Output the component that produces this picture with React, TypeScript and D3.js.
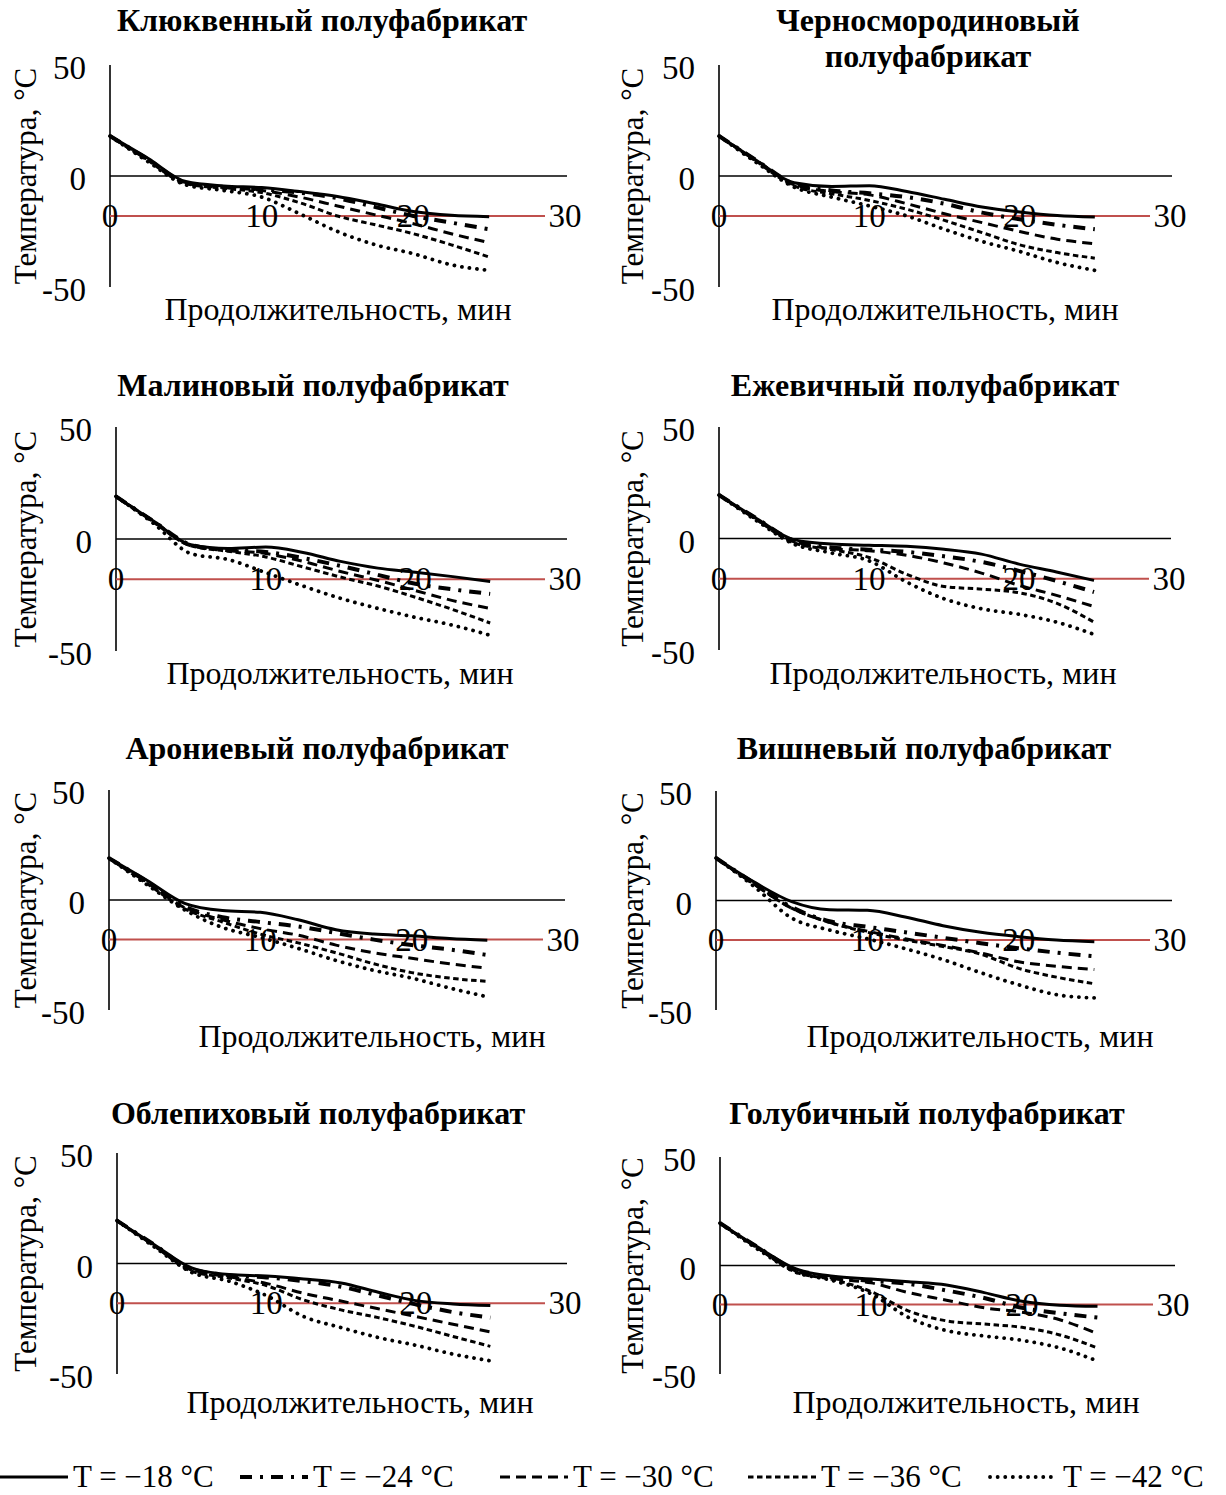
import * as d3 from "d3";

// время, мин
const times = [0, 2.5, 5, 7.5, 10, 12.5, 15, 17.5, 20, 22.5, 25];

const seriesNames = ["T = −18 °C", "T = −24 °C", "T = −30 °C", "T = −36 °C", "T = −42 °C"];

const xTicks = [0, 10, 20, 30];
const yTicks = [50, 0, -50];

// температура, °C — по порядку: −18, −24, −30, −36, −42
const klyukva = [
  [18, 8, -2.5, -4.5, -5.2, -7, -9.2, -12.5, -16, -17.7, -18.3],
  [18, 7.5, -3, -5, -6, -7.5, -10, -14, -18, -21, -24],
  [18, 7.5, -3, -5, -6.5, -9.5, -13.5, -17.5, -21.5, -26, -30],
  [18, 7, -3.5, -5.5, -7.5, -12, -18, -22, -26, -31, -36.5],
  [18, 6.5, -4, -6.5, -9.5, -17, -25, -31, -35, -40, -42.5],
];
const chernosmorodina = [
  [18, 7, -3, -4.7, -4.4, -7, -10.5, -14, -16.2, -17.8, -18.5],
  [18, 7, -3.5, -6.5, -7.8, -9.5, -12.5, -16.5, -19.5, -22, -24],
  [18, 7, -4, -7, -8.5, -12.5, -17, -21, -25, -28.5, -30.5],
  [18, 6.5, -4.5, -8, -11, -15, -20, -25.5, -31, -34.5, -37],
  [18, 6, -5, -9.5, -13.5, -18, -24, -29.5, -34, -39, -42.5],
];
const malina = [
  [19, 8, -2.5, -4.2, -3.6, -6, -10, -13, -14.8, -16.8, -19],
  [19, 8, -2.5, -5, -5.8, -8.5, -12, -16, -20, -22.5, -24.5],
  [19, 8, -3, -5, -6.5, -10, -14.5, -18.5, -23, -27.5, -31],
  [19, 7.5, -3, -5.5, -8, -12.5, -17, -21, -26, -31.5, -37.5],
  [19, 7, -6.5, -9.2, -15, -21, -26.5, -31, -35, -38.5, -43],
];
const ezhevika = [
  [19.5, 9, -0.5, -2.5, -3, -3.5, -4.8, -7, -11.5, -15, -18.8],
  [19.5, 9, -1, -4, -5, -6, -8, -10.5, -14.5, -19, -24],
  [19.5, 8.5, -1.5, -4.5, -5.5, -7.5, -11, -15.5, -21, -25.5, -30.5],
  [19.5, 8.5, -2, -5, -8.5, -16, -21.5, -22.7, -24.3, -29, -37.5],
  [19.5, 8, -2.5, -6.5, -10, -19.5, -27, -31.5, -34, -37.5, -43],
];
const aroniya = [
  [19, 9, -1.5, -4.8, -5.6, -9, -13.5, -15.5, -16.3, -17.5, -18.3],
  [19, 8.5, -3, -7.8, -10, -12, -15, -18, -20.5, -22.5, -25],
  [19, 8, -3.5, -9, -13, -16, -20.5, -24, -26.5, -29, -31],
  [19, 7.5, -4, -10, -15.5, -19.5, -24, -29, -33, -35.5, -37],
  [19, 7, -4.5, -12.5, -17, -22, -27.5, -32, -35.5, -40, -44],
];
const vishnya = [
  [19.4, 8.5, -0.5, -4.2, -4.5, -7.5, -11.5, -14.5, -16.5, -18, -18.8],
  [19.4, 8, -3, -9.5, -12, -14.5, -17, -19.5, -21.8, -23.8, -25.5],
  [19.4, 7.5, -3.5, -10, -14, -17.5, -20.5, -24, -28, -30, -31.5],
  [19.4, 7.5, -3.5, -10, -14.5, -18, -21, -24.5, -31, -35, -38],
  [19.4, 6.5, -8, -13.5, -17.5, -22, -27, -33, -38.5, -43, -44.5],
];
const oblepikha = [
  [19.4, 8.5, -2, -5, -5.7, -7, -8.8, -13, -16.8, -18.3, -19],
  [19.4, 8.5, -2.5, -5.3, -6.3, -8, -10.5, -14.5, -18.5, -22, -24.5],
  [19.4, 8, -3, -6, -9, -13.5, -17, -20.5, -24, -27.5, -31],
  [19.4, 8, -3.5, -6.5, -10, -16.5, -21, -24.5, -28.5, -33, -37.5],
  [19.4, 7.5, -4, -8, -14.5, -24, -29, -33.5, -37, -41, -44],
];
const golubika = [
  [19.5, 8.5, -1.5, -5, -6.2, -7.5, -9, -12.5, -16.5, -18.3, -18.8],
  [19.5, 8.5, -2, -5.5, -7, -8.5, -11.5, -15, -19.5, -22, -24],
  [19.5, 8, -2.5, -6, -8, -12.5, -16, -19.5, -21.5, -25, -31.5],
  [19.5, 8, -3, -6.5, -12, -21, -25.5, -27, -28.5, -32, -38],
  [19.5, 7.5, -3, -7, -13, -24, -30, -32.5, -34.5, -38, -44],
];

const panels = [
  { title: ["Клюквенный полуфабрикат"], data: klyukva, ax: 110, x30: 565, yTop: 65, yBot: 287, tx: 322, ty: 31, xl: 338, xly: 310, yl: 25 },
  { title: ["Черносмородиновый", "полуфабрикат"], data: chernosmorodina, ax: 719, x30: 1170, yTop: 65, yBot: 287, tx: 928, ty: 31, xl: 945, xly: 310, yl: 632 },
  { title: ["Малиновый полуфабрикат"], data: malina, ax: 116, x30: 565, yTop: 427, yBot: 651, tx: 313, ty: 396, xl: 340, xly: 674, yl: 25 },
  { title: ["Ежевичный полуфабрикат"], data: ezhevika, ax: 719, x30: 1169, yTop: 427, yBot: 650, tx: 925, ty: 396, xl: 943, xly: 674, yl: 632 },
  { title: ["Арониевый полуфабрикат"], data: aroniya, ax: 109, x30: 563, yTop: 790, yBot: 1010, tx: 317, ty: 759, xl: 372, xly: 1037, yl: 25 },
  { title: ["Вишневый полуфабрикат"], data: vishnya, ax: 716, x30: 1170, yTop: 791, yBot: 1010, tx: 924, ty: 759, xl: 980, xly: 1037, yl: 632 },
  { title: ["Облепиховый полуфабрикат"], data: oblepikha, ax: 117, x30: 565, yTop: 1153, yBot: 1374, tx: 318, ty: 1124, xl: 360, xly: 1403, yl: 25 },
  { title: ["Голубичный полуфабрикат"], data: golubika, ax: 720, x30: 1173, yTop: 1157, yBot: 1374, tx: 927, ty: 1124, xl: 966, xly: 1403, yl: 632 },
];

const styles = [
  { w: 3, dash: null, cap: "butt" },
  { w: 4, dash: "12 8 3 8", cap: "butt" },
  { w: 3, dash: "10 6", cap: "butt" },
  { w: 3, dash: "5.5 3.5", cap: "butt" },
  { w: 3.8, dash: "0.1 7.5", cap: "round" },
];

const legendX = [0, 240, 500, 748, 990];

const FONT = "'Liberation Serif', 'Times New Roman', serif";
const RED = "#c0504d";

function Panel({ p }) {
  const x = d3.scaleLinear().domain([0, 30]).range([p.ax, p.x30]);
  const y = d3.scaleLinear().domain([-50, 50]).range([p.yBot, p.yTop]);
  const line = d3.line().x((d) => x(d[0])).y((d) => y(d[1])).curve(d3.curveMonotoneX);
  const midY = (p.yTop + p.yBot) / 2;
  return (
    <g>
      {p.title.map((t, i) => (
        <text key={i} x={p.tx} y={p.ty + i * 36} textAnchor="middle" fontWeight="bold" fontSize={32}>
          {t}
        </text>
      ))}
      <line x1={p.ax} x2={p.ax} y1={y(50)} y2={y(-50)} stroke="#000" strokeWidth={1.6} />
      <line x1={p.ax} x2={x(30) + 2} y1={y(0)} y2={y(0)} stroke="#000" strokeWidth={1.6} />
      <line x1={p.ax} x2={x(30) - 20} y1={y(-18)} y2={y(-18)} stroke={RED} strokeWidth={2} />
      {yTicks.map((v) => (
        <text key={v} x={p.ax - 24} y={y(v) + 3} textAnchor="end" dominantBaseline="central" fontSize={33}>
          {v}
        </text>
      ))}
      {xTicks.map((v) => (
        <text key={v} x={x(v)} y={y(-18)} textAnchor="middle" dominantBaseline="central" fontSize={33}>
          {v}
        </text>
      ))}
      {p.data.map((vals, i) => (
        <path
          key={i}
          d={line(times.map((t, j) => [t, vals[j]]))}
          fill="none"
          stroke="#000"
          strokeWidth={styles[i].w}
          strokeDasharray={styles[i].dash || undefined}
          strokeLinecap={styles[i].cap}
        />
      ))}
      <text x={p.xl} y={p.xly + 10} textAnchor="middle" fontSize={32}>
        Продолжительность, мин
      </text>
      <text
        transform={`translate(${p.yl},${midY}) rotate(-90)`}
        textAnchor="middle"
        dominantBaseline="central"
        fontSize={31}
      >
        Температура, °C
      </text>
    </g>
  );
}

export default function App() {
  return (
    <svg
      width={1226}
      height={1495}
      style={{ position: "absolute", left: 0, top: 0, background: "#fff" }}
      fontFamily={FONT}
    >
      <rect width={1226} height={1495} fill="#fff" />
      {panels.map((p, i) => (
        <Panel key={i} p={p} />
      ))}
      {seriesNames.map((name, i) => (
        <g key={name}>
          <line
            x1={legendX[i]}
            x2={legendX[i] + 68}
            y1={1477}
            y2={1477}
            stroke="#000"
            strokeWidth={styles[i].w}
            strokeDasharray={styles[i].dash || undefined}
            strokeLinecap={styles[i].cap}
          />
          <text x={legendX[i] + 73} y={1487} fontSize={31}>
            {name}
          </text>
        </g>
      ))}
    </svg>
  );
}
